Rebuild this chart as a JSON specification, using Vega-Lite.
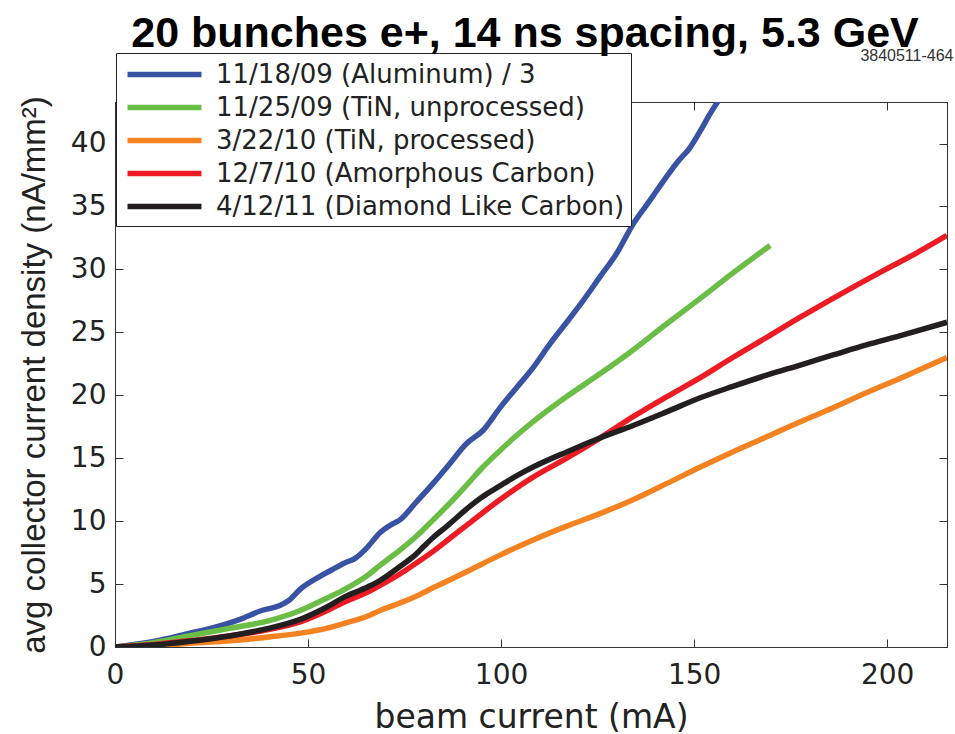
{
  "$schema": "https://vega.github.io/schema/vega-lite/v6.json",
  "autosize": "none",
  "width": 832,
  "height": 545,
  "padding": {"left": 115, "top": 102, "right": 8, "bottom": 87},
  "background": "white",
  "title": {
    "text": "20 bunches e+, 14 ns spacing, 5.3 GeV",
    "font": "Liberation Sans",
    "fontWeight": "bold",
    "fontSize": 43,
    "color": "#000000",
    "anchor": "middle",
    "frame": "group",
    "dx": -6,
    "offset": -9
  },
  "config": {
    "view": {"stroke": "#333333", "strokeWidth": 1},
    "axis": {
      "grid": false,
      "domainColor": "#333333",
      "tickColor": "#333333",
      "tickSize": -8,
      "labelFont": "DejaVu Sans",
      "labelFontSize": 28,
      "labelColor": "#222222",
      "titleFont": "DejaVu Sans",
      "titleFontWeight": "normal",
      "titleColor": "#222222"
    }
  },
  "datasets": {
    "curves": [
      {"sample": "11/18/09 (Aluminum) / 3", "mA": 0, "j": 0},
      {"sample": "11/18/09 (Aluminum) / 3", "mA": 10, "j": 0.45},
      {"sample": "11/18/09 (Aluminum) / 3", "mA": 19.4, "j": 1.1},
      {"sample": "11/18/09 (Aluminum) / 3", "mA": 25, "j": 1.5},
      {"sample": "11/18/09 (Aluminum) / 3", "mA": 32.4, "j": 2.2},
      {"sample": "11/18/09 (Aluminum) / 3", "mA": 38, "j": 2.9},
      {"sample": "11/18/09 (Aluminum) / 3", "mA": 42.7, "j": 3.3},
      {"sample": "11/18/09 (Aluminum) / 3", "mA": 45, "j": 3.7},
      {"sample": "11/18/09 (Aluminum) / 3", "mA": 48, "j": 4.6},
      {"sample": "11/18/09 (Aluminum) / 3", "mA": 53, "j": 5.6},
      {"sample": "11/18/09 (Aluminum) / 3", "mA": 56, "j": 6.1},
      {"sample": "11/18/09 (Aluminum) / 3", "mA": 59.6, "j": 6.7},
      {"sample": "11/18/09 (Aluminum) / 3", "mA": 62, "j": 7.0},
      {"sample": "11/18/09 (Aluminum) / 3", "mA": 65, "j": 7.8},
      {"sample": "11/18/09 (Aluminum) / 3", "mA": 68.7, "j": 9.1},
      {"sample": "11/18/09 (Aluminum) / 3", "mA": 72, "j": 9.8},
      {"sample": "11/18/09 (Aluminum) / 3", "mA": 73.8, "j": 10.1},
      {"sample": "11/18/09 (Aluminum) / 3", "mA": 77.7, "j": 11.4},
      {"sample": "11/18/09 (Aluminum) / 3", "mA": 82.4, "j": 13.0},
      {"sample": "11/18/09 (Aluminum) / 3", "mA": 86, "j": 14.3},
      {"sample": "11/18/09 (Aluminum) / 3", "mA": 91.2, "j": 16.2},
      {"sample": "11/18/09 (Aluminum) / 3", "mA": 95.3, "j": 17.2},
      {"sample": "11/18/09 (Aluminum) / 3", "mA": 99.7, "j": 19.0},
      {"sample": "11/18/09 (Aluminum) / 3", "mA": 104, "j": 20.6},
      {"sample": "11/18/09 (Aluminum) / 3", "mA": 108.3, "j": 22.2},
      {"sample": "11/18/09 (Aluminum) / 3", "mA": 112.7, "j": 24.1},
      {"sample": "11/18/09 (Aluminum) / 3", "mA": 117, "j": 25.8},
      {"sample": "11/18/09 (Aluminum) / 3", "mA": 121.2, "j": 27.5},
      {"sample": "11/18/09 (Aluminum) / 3", "mA": 125.6, "j": 29.4},
      {"sample": "11/18/09 (Aluminum) / 3", "mA": 130, "j": 31.3},
      {"sample": "11/18/09 (Aluminum) / 3", "mA": 134.2, "j": 33.6},
      {"sample": "11/18/09 (Aluminum) / 3", "mA": 138.6, "j": 35.5},
      {"sample": "11/18/09 (Aluminum) / 3", "mA": 142, "j": 37.0},
      {"sample": "11/18/09 (Aluminum) / 3", "mA": 145.6, "j": 38.5},
      {"sample": "11/18/09 (Aluminum) / 3", "mA": 149, "j": 39.7},
      {"sample": "11/18/09 (Aluminum) / 3", "mA": 151.6, "j": 41.0},
      {"sample": "11/18/09 (Aluminum) / 3", "mA": 154, "j": 42.3},
      {"sample": "11/18/09 (Aluminum) / 3", "mA": 156.5, "j": 43.5},

      {"sample": "11/25/09 (TiN, unprocessed)", "mA": 0, "j": 0},
      {"sample": "11/25/09 (TiN, unprocessed)", "mA": 10, "j": 0.35},
      {"sample": "11/25/09 (TiN, unprocessed)", "mA": 19.4, "j": 0.9},
      {"sample": "11/25/09 (TiN, unprocessed)", "mA": 30, "j": 1.5},
      {"sample": "11/25/09 (TiN, unprocessed)", "mA": 40, "j": 2.1},
      {"sample": "11/25/09 (TiN, unprocessed)", "mA": 48, "j": 2.9},
      {"sample": "11/25/09 (TiN, unprocessed)", "mA": 55, "j": 3.9},
      {"sample": "11/25/09 (TiN, unprocessed)", "mA": 59.6, "j": 4.6},
      {"sample": "11/25/09 (TiN, unprocessed)", "mA": 65, "j": 5.6},
      {"sample": "11/25/09 (TiN, unprocessed)", "mA": 68.7, "j": 6.5},
      {"sample": "11/25/09 (TiN, unprocessed)", "mA": 73.8, "j": 7.7},
      {"sample": "11/25/09 (TiN, unprocessed)", "mA": 77.7, "j": 8.7},
      {"sample": "11/25/09 (TiN, unprocessed)", "mA": 82.4, "j": 10.1},
      {"sample": "11/25/09 (TiN, unprocessed)", "mA": 86, "j": 11.2},
      {"sample": "11/25/09 (TiN, unprocessed)", "mA": 91.2, "j": 12.9},
      {"sample": "11/25/09 (TiN, unprocessed)", "mA": 95, "j": 14.2},
      {"sample": "11/25/09 (TiN, unprocessed)", "mA": 99.7, "j": 15.6},
      {"sample": "11/25/09 (TiN, unprocessed)", "mA": 104, "j": 16.8},
      {"sample": "11/25/09 (TiN, unprocessed)", "mA": 108.3, "j": 17.9},
      {"sample": "11/25/09 (TiN, unprocessed)", "mA": 117, "j": 19.9},
      {"sample": "11/25/09 (TiN, unprocessed)", "mA": 125.6, "j": 21.7},
      {"sample": "11/25/09 (TiN, unprocessed)", "mA": 134.2, "j": 23.6},
      {"sample": "11/25/09 (TiN, unprocessed)", "mA": 143, "j": 25.7},
      {"sample": "11/25/09 (TiN, unprocessed)", "mA": 151.6, "j": 27.7},
      {"sample": "11/25/09 (TiN, unprocessed)", "mA": 160, "j": 29.7},
      {"sample": "11/25/09 (TiN, unprocessed)", "mA": 169.7, "j": 31.9},

      {"sample": "3/22/10 (TiN, processed)", "mA": 0, "j": 0},
      {"sample": "3/22/10 (TiN, processed)", "mA": 10, "j": 0.08},
      {"sample": "3/22/10 (TiN, processed)", "mA": 19.4, "j": 0.3},
      {"sample": "3/22/10 (TiN, processed)", "mA": 30, "j": 0.5},
      {"sample": "3/22/10 (TiN, processed)", "mA": 40, "j": 0.8},
      {"sample": "3/22/10 (TiN, processed)", "mA": 48, "j": 1.1},
      {"sample": "3/22/10 (TiN, processed)", "mA": 55, "j": 1.5},
      {"sample": "3/22/10 (TiN, processed)", "mA": 59.6, "j": 1.9},
      {"sample": "3/22/10 (TiN, processed)", "mA": 65, "j": 2.4},
      {"sample": "3/22/10 (TiN, processed)", "mA": 68.7, "j": 2.9},
      {"sample": "3/22/10 (TiN, processed)", "mA": 73.8, "j": 3.5},
      {"sample": "3/22/10 (TiN, processed)", "mA": 77.7, "j": 4.0},
      {"sample": "3/22/10 (TiN, processed)", "mA": 82.4, "j": 4.7},
      {"sample": "3/22/10 (TiN, processed)", "mA": 91.2, "j": 6.0},
      {"sample": "3/22/10 (TiN, processed)", "mA": 99.7, "j": 7.3},
      {"sample": "3/22/10 (TiN, processed)", "mA": 108.3, "j": 8.5},
      {"sample": "3/22/10 (TiN, processed)", "mA": 117, "j": 9.6},
      {"sample": "3/22/10 (TiN, processed)", "mA": 125.6, "j": 10.6},
      {"sample": "3/22/10 (TiN, processed)", "mA": 134.2, "j": 11.7},
      {"sample": "3/22/10 (TiN, processed)", "mA": 143, "j": 13.0},
      {"sample": "3/22/10 (TiN, processed)", "mA": 151.6, "j": 14.3},
      {"sample": "3/22/10 (TiN, processed)", "mA": 160, "j": 15.5},
      {"sample": "3/22/10 (TiN, processed)", "mA": 168.8, "j": 16.7},
      {"sample": "3/22/10 (TiN, processed)", "mA": 177.5, "j": 17.9},
      {"sample": "3/22/10 (TiN, processed)", "mA": 186, "j": 19.0},
      {"sample": "3/22/10 (TiN, processed)", "mA": 194.6, "j": 20.2},
      {"sample": "3/22/10 (TiN, processed)", "mA": 203, "j": 21.3},
      {"sample": "3/22/10 (TiN, processed)", "mA": 215.5, "j": 23.0},

      {"sample": "12/7/10 (Amorphous Carbon)", "mA": 0, "j": 0},
      {"sample": "12/7/10 (Amorphous Carbon)", "mA": 10, "j": 0.2},
      {"sample": "12/7/10 (Amorphous Carbon)", "mA": 19.4, "j": 0.5},
      {"sample": "12/7/10 (Amorphous Carbon)", "mA": 30, "j": 0.9},
      {"sample": "12/7/10 (Amorphous Carbon)", "mA": 40, "j": 1.4},
      {"sample": "12/7/10 (Amorphous Carbon)", "mA": 48, "j": 2.0},
      {"sample": "12/7/10 (Amorphous Carbon)", "mA": 55, "j": 2.9},
      {"sample": "12/7/10 (Amorphous Carbon)", "mA": 59.6, "j": 3.6},
      {"sample": "12/7/10 (Amorphous Carbon)", "mA": 65, "j": 4.3},
      {"sample": "12/7/10 (Amorphous Carbon)", "mA": 68.7, "j": 4.9},
      {"sample": "12/7/10 (Amorphous Carbon)", "mA": 73.8, "j": 5.8},
      {"sample": "12/7/10 (Amorphous Carbon)", "mA": 77.7, "j": 6.6},
      {"sample": "12/7/10 (Amorphous Carbon)", "mA": 82.4, "j": 7.6},
      {"sample": "12/7/10 (Amorphous Carbon)", "mA": 87, "j": 8.7},
      {"sample": "12/7/10 (Amorphous Carbon)", "mA": 91.2, "j": 9.7},
      {"sample": "12/7/10 (Amorphous Carbon)", "mA": 99.7, "j": 11.7},
      {"sample": "12/7/10 (Amorphous Carbon)", "mA": 108.3, "j": 13.5},
      {"sample": "12/7/10 (Amorphous Carbon)", "mA": 117, "j": 15.0},
      {"sample": "12/7/10 (Amorphous Carbon)", "mA": 125.6, "j": 16.6},
      {"sample": "12/7/10 (Amorphous Carbon)", "mA": 134.2, "j": 18.3},
      {"sample": "12/7/10 (Amorphous Carbon)", "mA": 143, "j": 19.9},
      {"sample": "12/7/10 (Amorphous Carbon)", "mA": 151.6, "j": 21.4},
      {"sample": "12/7/10 (Amorphous Carbon)", "mA": 160, "j": 23.0},
      {"sample": "12/7/10 (Amorphous Carbon)", "mA": 168.8, "j": 24.6},
      {"sample": "12/7/10 (Amorphous Carbon)", "mA": 177.5, "j": 26.2},
      {"sample": "12/7/10 (Amorphous Carbon)", "mA": 186, "j": 27.7},
      {"sample": "12/7/10 (Amorphous Carbon)", "mA": 199, "j": 29.9},
      {"sample": "12/7/10 (Amorphous Carbon)", "mA": 207, "j": 31.2},
      {"sample": "12/7/10 (Amorphous Carbon)", "mA": 215.5, "j": 32.7},

      {"sample": "4/12/11 (Diamond Like Carbon)", "mA": 0, "j": 0},
      {"sample": "4/12/11 (Diamond Like Carbon)", "mA": 10, "j": 0.15},
      {"sample": "4/12/11 (Diamond Like Carbon)", "mA": 19.4, "j": 0.45},
      {"sample": "4/12/11 (Diamond Like Carbon)", "mA": 30, "j": 0.9},
      {"sample": "4/12/11 (Diamond Like Carbon)", "mA": 40, "j": 1.5},
      {"sample": "4/12/11 (Diamond Like Carbon)", "mA": 48, "j": 2.2},
      {"sample": "4/12/11 (Diamond Like Carbon)", "mA": 55, "j": 3.2},
      {"sample": "4/12/11 (Diamond Like Carbon)", "mA": 59.6, "j": 4.0},
      {"sample": "4/12/11 (Diamond Like Carbon)", "mA": 65, "j": 4.7},
      {"sample": "4/12/11 (Diamond Like Carbon)", "mA": 68.7, "j": 5.3},
      {"sample": "4/12/11 (Diamond Like Carbon)", "mA": 73.8, "j": 6.4},
      {"sample": "4/12/11 (Diamond Like Carbon)", "mA": 77.7, "j": 7.3},
      {"sample": "4/12/11 (Diamond Like Carbon)", "mA": 80, "j": 8.0},
      {"sample": "4/12/11 (Diamond Like Carbon)", "mA": 82.4, "j": 8.7},
      {"sample": "4/12/11 (Diamond Like Carbon)", "mA": 86, "j": 9.6},
      {"sample": "4/12/11 (Diamond Like Carbon)", "mA": 91.2, "j": 11.0},
      {"sample": "4/12/11 (Diamond Like Carbon)", "mA": 95, "j": 11.9},
      {"sample": "4/12/11 (Diamond Like Carbon)", "mA": 99.7, "j": 12.8},
      {"sample": "4/12/11 (Diamond Like Carbon)", "mA": 104, "j": 13.6},
      {"sample": "4/12/11 (Diamond Like Carbon)", "mA": 108.3, "j": 14.3},
      {"sample": "4/12/11 (Diamond Like Carbon)", "mA": 117, "j": 15.5},
      {"sample": "4/12/11 (Diamond Like Carbon)", "mA": 125.6, "j": 16.6},
      {"sample": "4/12/11 (Diamond Like Carbon)", "mA": 134.2, "j": 17.6},
      {"sample": "4/12/11 (Diamond Like Carbon)", "mA": 143, "j": 18.7},
      {"sample": "4/12/11 (Diamond Like Carbon)", "mA": 151.6, "j": 19.8},
      {"sample": "4/12/11 (Diamond Like Carbon)", "mA": 160, "j": 20.7},
      {"sample": "4/12/11 (Diamond Like Carbon)", "mA": 168.8, "j": 21.6},
      {"sample": "4/12/11 (Diamond Like Carbon)", "mA": 177.5, "j": 22.4},
      {"sample": "4/12/11 (Diamond Like Carbon)", "mA": 186, "j": 23.2},
      {"sample": "4/12/11 (Diamond Like Carbon)", "mA": 194.6, "j": 24.0},
      {"sample": "4/12/11 (Diamond Like Carbon)", "mA": 203, "j": 24.7},
      {"sample": "4/12/11 (Diamond Like Carbon)", "mA": 215.5, "j": 25.8}
    ]
  },
  "data": {"name": "curves"},
  "layer": [
    {
      "mark": {"type": "line", "strokeWidth": 5.5, "interpolate": "monotone", "clip": true},
      "encoding": {
        "x": {
          "field": "mA", "type": "quantitative",
          "scale": {"domain": [0, 215.5], "nice": false, "zero": false},
          "axis": {
            "orient": "bottom",
            "values": [0, 50, 100, 150, 200],
            "title": "beam current (mA)",
            "titleFontSize": 33,
            "titlePadding": 12,
            "labelPadding": 22,
            "labelFlush": false
          }
        },
        "y": {
          "field": "j", "type": "quantitative",
          "scale": {"domain": [0, 43.3], "nice": false, "zero": false},
          "axis": {
            "orient": "left",
            "values": [0, 5, 10, 15, 20, 25, 30, 35, 40],
            "title": "avg collector current density (nA/mm²)",
            "titleFont": "Liberation Sans",
            "titleFontSize": 33,
            "titlePadding": 19,
            "labelPadding": 17,
            "labelFlush": false
          }
        },
        "color": {
          "field": "sample", "type": "nominal",
          "scale": {
            "domain": [
              "11/18/09 (Aluminum) / 3",
              "11/25/09 (TiN, unprocessed)",
              "3/22/10 (TiN, processed)",
              "12/7/10 (Amorphous Carbon)",
              "4/12/11 (Diamond Like Carbon)"
            ],
            "range": ["#3953A4", "#6ABD45", "#F58220", "#ED1C24", "#231F20"]
          },
          "legend": {
            "orient": "none",
            "legendX": 1,
            "legendY": -49,
            "title": null,
            "symbolType": "M-3,0H3",
            "symbolSize": 608,
            "symbolStrokeWidth": 5.5,
            "symbolOffset": 27,
            "labelFont": "DejaVu Sans",
            "labelFontSize": 26,
            "labelColor": "#222222",
            "labelOffset": 36,
            "labelLimit": 600,
            "rowPadding": 4,
            "padding": 6,
            "strokeColor": "#222222",
            "fillColor": "#ffffff"
          }
        }
      }
    },
    {
      "mark": {"type": "line", "strokeOpacity": 0},
      "encoding": {
        "x": {
          "field": "mA", "type": "quantitative",
          "axis": {
            "orient": "top",
            "values": [0, 50, 100, 150, 200],
            "labels": false,
            "title": "3840511-464",
            "titleFont": "Liberation Sans",
            "titleFontSize": 16,
            "titleColor": "#333333",
            "titleX": 838,
            "titleY": -47,
            "titleAlign": "right",
            "titleBaseline": "middle"
          }
        },
        "y": {
          "field": "j", "type": "quantitative",
          "axis": {
            "orient": "right",
            "values": [0, 5, 10, 15, 20, 25, 30, 35, 40],
            "labels": false,
            "title": null
          }
        },
        "detail": {"field": "sample", "type": "nominal"}
      }
    }
  ],
  "resolve": {"axis": {"x": "independent", "y": "independent"}}
}
